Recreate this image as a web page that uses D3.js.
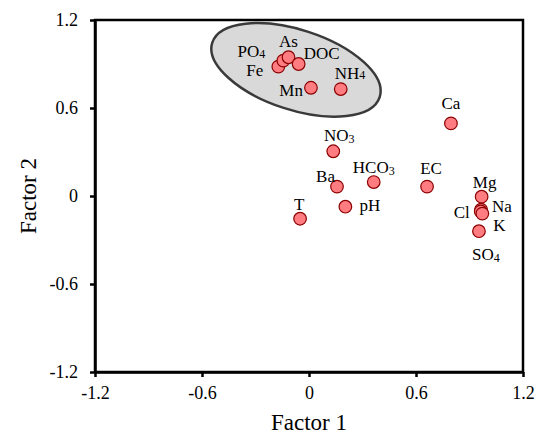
<!DOCTYPE html>
<html>
<head>
<meta charset="utf-8">
<script src="https://cdn.jsdelivr.net/npm/d3@7/dist/d3.min.js"></script>
<style>
  html, body { margin: 0; padding: 0; background: #fff; }
  svg { display: block; }
  text { font-family: "Liberation Serif", "Times New Roman", serif; fill: #000; }
</style>
</head>
<body>
<svg id="chart" width="539" height="436"></svg>
<script>
// ---- data ----
const variables = ["Fe", "PO4", "As", "DOC", "Mn", "NH4", "Ca", "NO3", "HCO3", "Ba", "EC", "Mg", "Na", "Cl", "K", "SO4", "pH", "T"];
const factor1 = [-0.172, -0.144, -0.115, -0.058, 0.011, 0.178, 0.796, 0.136, 0.363, 0.157, 0.662, 0.968, 0.965, 0.963, 0.972, 0.953, 0.204, -0.050];
const factor2 = [0.882, 0.923, 0.946, 0.900, 0.738, 0.729, 0.495, 0.305, 0.095, 0.064, 0.064, -0.005, -0.093, -0.105, -0.120, -0.240, -0.073, -0.155];
const tickValues = [-1.2, -0.6, 0, 0.6, 1.2];
const tickLabels = ["-1.2", "-0.6", "0", "0.6", "1.2"];
// grouping ellipse (centre in factor units)
const groupCentre = [-0.073, 0.86];

// ---- label layout (text parts: [main, subscript], anchor, offsets in px) ----
const labelParts = {
  Fe: ["Fe", ""], PO4: ["PO", "4"], As: ["As", ""], DOC: ["DOC", ""], Mn: ["Mn", ""],
  NH4: ["NH", "4"], Ca: ["Ca", ""], NO3: ["NO", "3"], HCO3: ["HCO", "3"], Ba: ["Ba", ""],
  EC: ["EC", ""], Mg: ["Mg", ""], Na: ["Na", ""], Cl: ["Cl", ""], K: ["K", ""],
  SO4: ["SO", "4"], pH: ["pH", ""], T: ["T", ""]
};
const labelLayout = {
  Fe: ["end", -15, 9], PO4: ["end", -18, -4], As: ["middle", 0, -10], DOC: ["start", 5, -5],
  Mn: ["end", -8, 8], NH4: ["start", -6, -10], Ca: ["middle", 0, -14], NO3: ["middle", 6, -10],
  HCO3: ["middle", 0, -9], Ba: ["end", -2, -5], EC: ["middle", 4, -13], Mg: ["middle", 3, -9],
  Na: ["start", 11, 2], Cl: ["end", -11, 7], K: ["start", 11, 17], SO4: ["middle", 7, 29],
  pH: ["start", 14, 4], T: ["middle", -1, -9]
};

const svg = d3.select("#chart");
const mLeft = 95, mRight = 523, mTop = 20, mBottom = 372;

const x = d3.scaleLinear().domain([-1.2, 1.2]).range([mLeft, mRight]);
const y = d3.scaleLinear().domain([-1.2, 1.2]).range([mBottom, mTop]);

// frame
svg.append("rect")
  .attr("x", mLeft).attr("y", mTop)
  .attr("width", mRight - mLeft).attr("height", mBottom - mTop)
  .attr("fill", "none").attr("stroke", "#000").attr("stroke-width", 2.5);

// axes
const xAxis = d3.axisBottom(x).tickValues(tickValues)
  .tickFormat((d, i) => tickLabels[i]).tickSize(5).tickSizeOuter(0).tickPadding(9);
const yAxis = d3.axisLeft(y).tickValues(tickValues)
  .tickFormat((d, i) => tickLabels[i]).tickSize(5).tickSizeOuter(0).tickPadding(12);

const gx = svg.append("g").attr("transform", `translate(0,${mBottom})`).call(xAxis);
const gy = svg.append("g").attr("transform", `translate(${mLeft},0)`).call(yAxis);
[gx, gy].forEach(g => {
  g.select(".domain").attr("stroke", "#000").attr("stroke-width", 2.5);
  g.selectAll(".tick line").attr("stroke", "#000").attr("stroke-width", 2.5);
  g.selectAll(".tick text").attr("font-family", "Liberation Serif, Times New Roman, serif")
    .attr("font-size", 18).attr("fill", "#000");
});

// axis titles
svg.append("text").attr("x", (mLeft + mRight) / 2).attr("y", 430)
  .attr("text-anchor", "middle").attr("font-size", 23).text("Factor 1");
svg.append("text").attr("transform", `translate(36,${(mTop + mBottom) / 2}) rotate(-90)`)
  .attr("text-anchor", "middle").attr("font-size", 23).text("Factor 2");

// grouping ellipse
const cx = x(groupCentre[0]), cy = y(groupCentre[1]);
svg.append("ellipse")
  .attr("cx", cx).attr("cy", cy)
  .attr("rx", 88).attr("ry", 40)
  .attr("transform", `rotate(18,${cx},${cy})`)
  .attr("fill", "#d9d9d9").attr("stroke", "#3a3a3a").attr("stroke-width", 2.5);

// points
const pts = variables.map((v, i) => ({ name: v, f1: factor1[i], f2: factor2[i] }));
svg.append("g").selectAll("circle").data(pts).join("circle")
  .attr("cx", d => x(d.f1)).attr("cy", d => y(d.f2)).attr("r", 6.3)
  .attr("fill", "#ff7c80").attr("stroke", "#8b0000").attr("stroke-width", 1.2);

// labels
const lab = svg.append("g").selectAll("text").data(pts).join("text")
  .attr("x", d => x(d.f1) + labelLayout[d.name][1])
  .attr("y", d => y(d.f2) + labelLayout[d.name][2])
  .attr("text-anchor", d => labelLayout[d.name][0])
  .attr("font-size", 17);
lab.append("tspan").text(d => labelParts[d.name][0]);
lab.filter(d => labelParts[d.name][1] !== "")
  .append("tspan")
  .attr("font-size", 12)
  .attr("dy", d => d.name === "NH4" ? 0 : 1.5)
  .text(d => labelParts[d.name][1]);
</script>
</body>
</html>
